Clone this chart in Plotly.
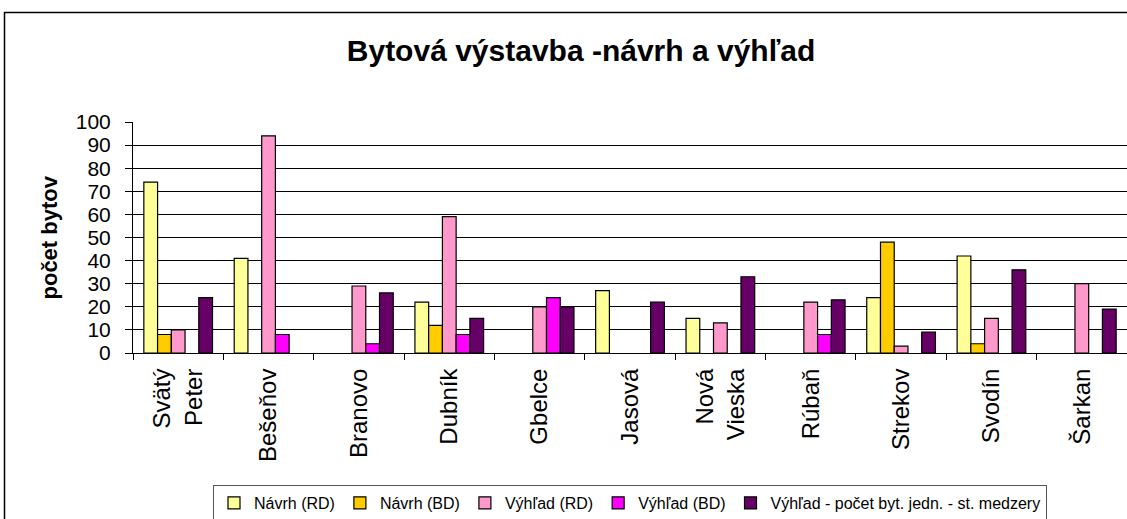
import plotly.graph_objects as go

categories = ["Svätý<br>Peter", "Bešeňov", "Branovo", "Dubník", "Gbelce", "Jasová",
              "Nová<br>Vieska", "Rúbaň", "Strekov", "Svodín", "Šarkan"]
navrh_rd = [74, 41, 0, 22, 0, 27, 15, 0, 24, 42, 0]
navrh_bd = [8, 0, 0, 12, 0, 0, 0, 0, 48, 4, 0]
vyhlad_rd = [10, 94, 29, 59, 20, 0, 13, 22, 3, 15, 30]
vyhlad_bd = [0, 8, 4, 8, 24, 0, 0, 8, 0, 0, 0]
vyhlad_medzery = [24, 0, 26, 15, 20, 22, 33, 23, 9, 36, 19]

series_names = ["Návrh (RD)", "Návrh (BD)", "Výhľad (RD)", "Výhľad (BD)",
                "Výhľad - počet byt. jedn. - st. medzery"]
series_values = [navrh_rd, navrh_bd, vyhlad_rd, vyhlad_bd, vyhlad_medzery]
series_colors = ["#FFFF99", "#FFCC00", "#FF99CC", "#FF00FF", "#660066"]

FONT = "Arial, Liberation Sans, sans-serif"

fig = go.Figure()
for name, vals, col in zip(series_names, series_values, series_colors):
    fig.add_trace(go.Bar(
        x=categories, y=[v if v else None for v in vals], name=name,
        marker=dict(color=col, line=dict(color="black", width=1.2)),
    ))

W, H = 1127, 519
L, R, T, B = 133, 0, 122, 166
pw, ph = W - L - R, H - T - B

def px_x(p):
    return (p - L) / pw

def px_y(p):
    return (H - B - p) / ph

fig.update_layout(
    width=W, height=H,
    margin=dict(l=L, r=R, t=T, b=B, autoexpand=False),
    paper_bgcolor="white", plot_bgcolor="white",
    barmode="group", bargap=0.24, bargroupgap=0,
    font=dict(family=FONT, color="black"),
    title=dict(text="<b>Bytová výstavba -návrh a výhľad</b>",
               font=dict(size=30, family=FONT, color="black"),
               x=581 / W, xref="container", xanchor="center",
               y=1 - 50 / H, yref="container", yanchor="middle"),
    showlegend=True,
    legend=dict(orientation="h", x=0.5, y=px_y(485), xanchor="center", yanchor="top",
                xref="paper", yref="paper",
                bordercolor="#555", borderwidth=1, bgcolor="white",
                font=dict(size=16, family=FONT, color="black"),
                itemwidth=30, tracegroupgap=0),
    xaxis=dict(showline=True, linecolor="black", linewidth=1,
               ticks="outside", tickson="boundaries", ticklen=6, tickcolor="black",
               tickangle=-90, tickfont=dict(size=24, family=FONT, color="black"),
               showgrid=False, ticklabelstandoff=5, automargin=False),
    yaxis=dict(range=[0, 100], dtick=10, showline=True, linecolor="black", linewidth=1,
               ticks="outside", ticklen=7, tickcolor="black",
               tickfont=dict(size=21, family=FONT, color="black"),
               showgrid=True, gridcolor="black", gridwidth=1, zeroline=False,
               ticklabelstandoff=10, automargin=False),
    annotations=[dict(text="<b>počet bytov</b>", textangle=-90, x=px_x(49), y=0.5,
                      xref="paper", yref="paper", showarrow=False,
                      xanchor="center", yanchor="middle",
                      font=dict(size=22, family=FONT, color="black"))],
    shapes=[dict(type="rect", xref="paper", yref="paper",
                 x0=px_x(4.5), x1=px_x(W + 10), y0=px_y(H + 10), y1=px_y(12.5),
                 line=dict(color="black", width=1.5), fillcolor="rgba(0,0,0,0)",
                 layer="below")],
)

fig.write_html("out.html", config={"displayModeBar": False},
               post_script="document.body.style.margin='0px';")
